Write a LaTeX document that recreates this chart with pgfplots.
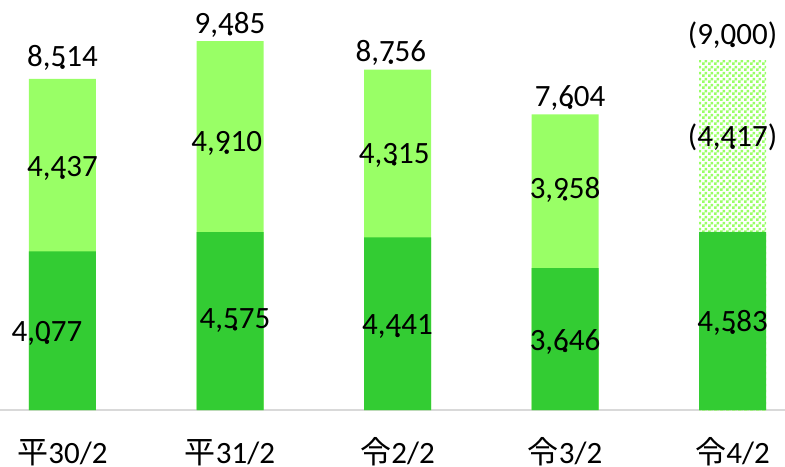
\documentclass[border=0pt]{standalone}
\usepackage{fontspec}
\setmainfont{Carlito}
\newfontfamily\cjk{Noto Sans CJK JP}
\usepackage{pgfplots}
\usepackage{pgfplotstable}
\pgfplotsset{compat=1.18}
\usetikzlibrary{patterns}
\pgfdeclarepatternformonly{mycheck}{\pgfpointorigin}{\pgfqpoint{6bp}{6bp}}{\pgfqpoint{6bp}{6bp}}{%
  \pgfpathrectangle{\pgfpointorigin}{\pgfqpoint{3bp}{3bp}}%
  \pgfpathrectangle{\pgfqpoint{3bp}{3bp}}{\pgfqpoint{3bp}{3bp}}%
  \pgfusepath{fill}}
\definecolor{dg}{HTML}{33CC33}
\definecolor{lg}{HTML}{99FF66}
\definecolor{axc}{HTML}{D9D9D9}

\pgfplotstableread{
x y label
0 8830 8,514
0 6000 4,437
-0.093 1757 4,077
1 9689 9,485
0.98 6644 4,910
1.03 2101 4,575
1.96 8958 8,756
1.98 6345 4,315
2 1929 4,441
3.03 7801 7,604
3 5445 3,958
3 1543 3,646
4 9388 (9,000)
4 6772 (4,417)
4 2014 4,583
}\labels

\begin{document}
\begin{tikzpicture}
\begin{axis}[
  at={(0,0)}, anchor=south west,
  scale only axis, width=785bp, height=410bp,
  xmin=-0.373, xmax=4.313, ymin=0, ymax=10545,
  axis y line=none,
  axis x line*=bottom,
  x axis line style={axc, line width=1.5bp},
  xtick={0,1,2,3,4},
  xticklabels={{{\cjk 平}30/2},{{\cjk 平}31/2},{{\cjk 令}2/2},{{\cjk 令}3/2},{{\cjk 令}4/2}},
  major tick length=0pt,
  xticklabel style={font=\fontsize{31bp}{31bp}\selectfont, anchor=base, yshift=-53.5bp, inner sep=0pt},
  clip=false,
]
\addplot[ybar, bar width=0.4, bar shift=0pt, fill=lg, draw=none] coordinates {(0,8514) (1,9485) (2,8756) (3,7604)};
\addplot[ybar, bar width=0.4, bar shift=0pt, pattern=mycheck, pattern color=lg, draw=none] coordinates {(4,9000)};
\addplot[ybar, bar width=0.4, bar shift=0pt, fill=dg, draw=none] coordinates {(0,4077) (1,4575) (2,4441) (3,3646) (4,4583)};
\addplot[only marks, mark=*, mark options={draw=none, fill=none},
  nodes near coords, point meta=explicit symbolic,
  nodes near coords style={anchor=base, text=black, inner sep=0pt, font=\fontsize{31bp}{31bp}\selectfont}]
  table[x=x, y=y, meta=label] {\labels};
\end{axis}
\pgfresetboundingbox
\path[use as bounding box] (0,-57bp) rectangle (785bp,410bp);
\end{tikzpicture}
\end{document}
